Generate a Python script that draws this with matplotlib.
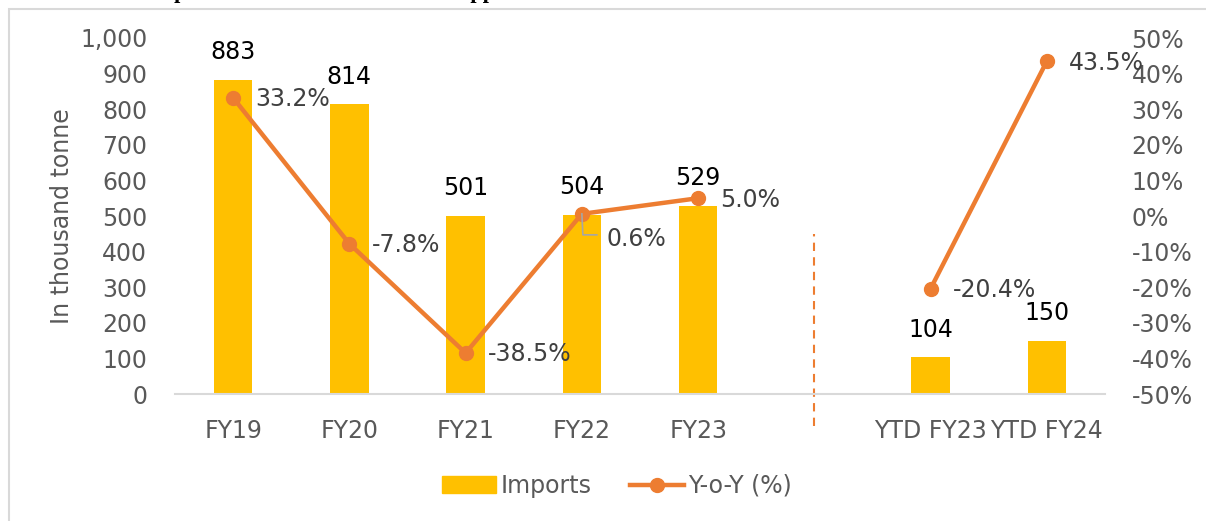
import numpy as np
import matplotlib
matplotlib.use("Agg")
import matplotlib.pyplot as plt
from matplotlib.patches import Rectangle
from matplotlib.lines import Line2D
from matplotlib.ticker import FuncFormatter, MultipleLocator

# Data
categories = ["FY19", "FY20", "FY21", "FY22", "FY23", "", "YTD FY23", "YTD FY24"]
imports = [883, 814, 501, 504, 529, np.nan, 104, 150]          # thousand tonne
yoy = [33.2, -7.8, -38.5, 0.6, 5.0, np.nan, -20.4, 43.5]        # percent
bar_labels = ["883", "814", "501", "504", "529", "", "104", "150"]
yoy_labels = ["33.2%", "-7.8%", "-38.5%", "0.6%", "5.0%", "", "-20.4%", "43.5%"]

BAR = "#FFC000"
LINE = "#ED7D31"
TXT = "#595959"
LBL = "#404040"
FS = 17

plt.rcParams["font.family"] = ["DejaVu Sans"]

fig = plt.figure(figsize=(12.06, 5.21), dpi=100)
W, H = 1206, 521

def fx(px):
    return px / W

def fy(py):
    return 1 - py / H

# chart frame
fig.patches.append(Rectangle((fx(9), -0.1), 1.2, fy(9) + 0.1, transform=fig.transFigure,
                             fill=False, edgecolor="#D9D9D9", linewidth=1.5))

# heading above the chart (mostly outside the canvas)
fig.text(fx(60), fy(-2), "Chart 5: Imports of chemicals and other supplies",
         fontfamily="Liberation Serif", fontweight="bold", fontsize=16, color="black",
         va="baseline", ha="left")

ax = fig.add_axes([fx(175), fy(394), fx(1105) - fx(175), fy(38) - fy(394)])
x = np.arange(len(categories))

ax.bar(x, imports, width=0.33, color=BAR, zorder=2)
ax.set_xlim(-0.5, len(categories) - 0.5)
ax.set_ylim(0, 1000)
ax.yaxis.set_major_locator(MultipleLocator(100))
ax.yaxis.set_major_formatter(FuncFormatter(lambda v, p: f"{v:,.0f}"))
ax.set_xticks(x)
ax.set_xticklabels(categories)
for s in ["top", "right", "left"]:
    ax.spines[s].set_visible(False)
ax.spines["bottom"].set_color("#D9D9D9")
ax.spines["bottom"].set_linewidth(1.5)
ax.tick_params(axis="y", length=0, pad=20, labelsize=FS, labelcolor=TXT)
ax.tick_params(axis="x", length=0, pad=18, labelsize=FS, labelcolor=TXT)
ax.set_ylabel("In thousand tonne", fontsize=FS, color=TXT, labelpad=4)

for xi, v, t in zip(x, imports, bar_labels):
    if t:
        ax.annotate(t, (xi, v), xytext=(0, 11), textcoords="offset points",
                    ha="center", va="bottom", fontsize=FS, color="black")

# separator between full years and year-to-date
ax.plot([5, 5], [-0.09, 0.45], transform=ax.get_xaxis_transform(), color=LINE,
        linewidth=1.5, linestyle=(0, (4, 3)), clip_on=False, zorder=1)

ax2 = ax.twinx()
ax2.set_ylim(-50, 50)
ax2.yaxis.set_major_locator(MultipleLocator(10))
ax2.yaxis.set_major_formatter(FuncFormatter(lambda v, p: f"{v:.0f}%".replace("\u2212", "-")))
for s in ax2.spines.values():
    s.set_visible(False)
ax2.tick_params(axis="y", length=0, pad=19, labelsize=FS, labelcolor=TXT)
ax2.plot(x, yoy, color=LINE, linewidth=3.2, marker="o", markersize=10, zorder=3)

for xi, v, t in zip(x, yoy, yoy_labels):
    if not t:
        continue
    if t == "0.6%":
        ax2.annotate(t, (xi, v), xytext=(18, -18), textcoords="offset points",
                     ha="left", va="center", fontsize=FS, color=LBL)
        p0 = ax2.transData.transform((xi, v))
        pts = [(p0[0], p0[1]), (p0[0] + 1, p0[1] - 21), (p0[0] + 15, p0[1] - 21)]
        inv = fig.transFigure.inverted()
        fp = inv.transform(pts)
        fig.add_artist(Line2D(fp[:, 0], fp[:, 1], color="#A6A6A6", linewidth=1.2,
                              transform=fig.transFigure, zorder=2))
    else:
        ax2.annotate(t, (xi, v), xytext=(16, -1), textcoords="offset points",
                     ha="left", va="center", fontsize=FS, color=LBL)

handles = [Rectangle((0, 0), 1, 1, color=BAR),
           Line2D([], [], color=LINE, linewidth=3.2, marker="o", markersize=10)]
fig.legend(handles, ["Imports", "Y-o-Y (%)"], loc="center", bbox_to_anchor=(fx(617), fy(486)),
           ncol=2, frameon=False, fontsize=FS, labelcolor=TXT, handlelength=2.3,
           handleheight=0.7, handletextpad=0.2, columnspacing=1.6)

fig.savefig("out.png", dpi=100)
